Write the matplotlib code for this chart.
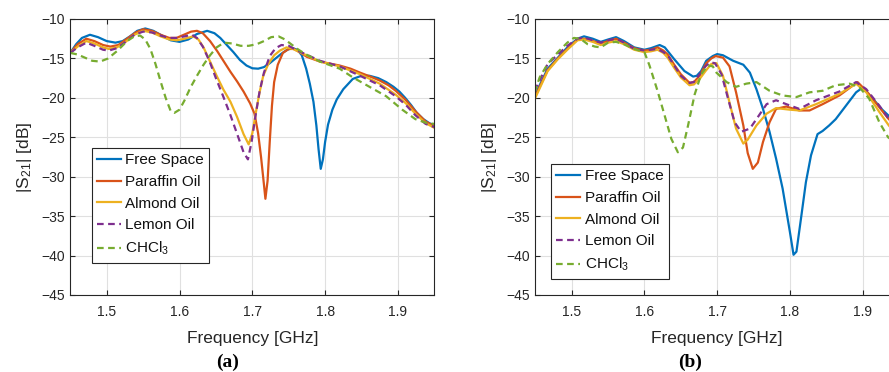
import matplotlib
matplotlib.use("Agg")
import matplotlib.pyplot as plt

plt.rcParams['font.family'] = ['Liberation Sans', 'DejaVu Sans']
plt.rcParams['mathtext.fontset'] = 'custom'
plt.rcParams['mathtext.rm'] = 'Liberation Sans'
plt.rcParams['mathtext.it'] = 'Liberation Sans:italic'

# ---------------- data: panel (a) ----------------
fa_free = [1.45, 1.458, 1.466, 1.477, 1.488, 1.5, 1.512, 1.522, 1.532, 1.542, 1.553, 1.564, 1.576, 1.588,
           1.6, 1.612, 1.624, 1.638, 1.648, 1.656, 1.665, 1.674, 1.683, 1.692, 1.7, 1.708, 1.716, 1.724,
           1.732, 1.74, 1.748, 1.755, 1.762, 1.768, 1.774, 1.779, 1.784, 1.788, 1.791, 1.794, 1.797, 1.8,
           1.804, 1.81, 1.816, 1.825, 1.838, 1.85, 1.861, 1.873, 1.884, 1.894, 1.902, 1.91, 1.918, 1.926,
           1.935, 1.943, 1.95]
va_free = [-14.3, -13.2, -12.4, -12.0, -12.3, -12.8, -13.0, -12.8, -12.2, -11.5, -11.2, -11.5, -12.1, -12.7,
           -12.9, -12.6, -11.9, -11.5, -11.8, -12.4, -13.3, -14.2, -15.2, -15.9, -16.25, -16.3, -16.1, -15.6,
           -15.0, -14.4, -13.9, -13.7, -13.9, -14.6, -16.3, -18.2, -20.5, -23.5, -26.5, -29.0, -27.8, -25.6,
           -23.4, -21.5, -20.2, -18.9, -17.6, -17.2, -17.2, -17.5, -18.0, -18.6, -19.2, -20.0, -20.9, -21.9,
           -22.7, -23.2, -23.5]

fa_paraffin = [1.45, 1.46, 1.472, 1.483, 1.495, 1.505, 1.516, 1.528, 1.54, 1.55, 1.562, 1.574, 1.586, 1.596,
               1.606, 1.616, 1.624, 1.632, 1.642, 1.652, 1.661, 1.67, 1.679, 1.688, 1.697, 1.703, 1.708, 1.712,
               1.716, 1.718, 1.721, 1.724, 1.727, 1.73, 1.735, 1.742, 1.75, 1.757, 1.765, 1.775, 1.793, 1.82,
               1.835, 1.848, 1.862, 1.875, 1.887, 1.897, 1.911, 1.924, 1.938, 1.95]
va_paraffin = [-14.3, -13.2, -12.5, -12.8, -13.3, -13.5, -13.3, -12.5, -11.7, -11.3, -11.5, -12.0, -12.4, -12.4,
               -12.0, -11.6, -11.5, -11.8, -12.8, -14.1, -15.4, -16.7, -17.9, -19.2, -20.7, -22.0, -24.5, -27.5,
               -31.0, -32.8, -30.5, -25.5, -21.0, -18.0, -15.8, -14.3, -13.8, -13.8, -14.2, -14.8, -15.4, -15.9,
               -16.3, -16.8, -17.3, -17.8, -18.4, -19.1, -20.3, -21.7, -23.0, -23.6]

fa_almond = [1.45, 1.46, 1.472, 1.483, 1.495, 1.503, 1.514, 1.526, 1.538, 1.55, 1.562, 1.574, 1.586, 1.596,
             1.607, 1.619, 1.626, 1.633, 1.642, 1.651, 1.66, 1.67, 1.679, 1.688, 1.695, 1.7, 1.705, 1.71,
             1.715, 1.722, 1.73, 1.738, 1.747, 1.756, 1.765, 1.793, 1.82, 1.848, 1.875, 1.897, 1.911, 1.924,
             1.938, 1.95]
va_almond = [-14.3, -13.5, -12.8, -13.1, -13.6, -13.8, -13.6, -12.9, -12.0, -11.5, -11.7, -12.2, -12.6, -12.7,
             -12.5, -12.2, -12.6, -13.6, -15.4, -17.2, -18.9, -20.5, -22.4, -24.6, -25.9, -24.5, -21.8, -19.3,
             -17.2, -15.7, -14.6, -14.0, -13.6, -13.8, -14.2, -15.4, -16.0, -17.0, -18.2, -19.6, -20.7, -22.0,
             -23.2, -23.8]

fa_lemon = [1.45, 1.46, 1.472, 1.483, 1.495, 1.503, 1.514, 1.526, 1.538, 1.55, 1.562, 1.574, 1.586, 1.596,
            1.607, 1.617, 1.624, 1.632, 1.641, 1.65, 1.66, 1.67, 1.68, 1.688, 1.694, 1.699, 1.704, 1.71,
            1.716, 1.724, 1.732, 1.74, 1.75, 1.762, 1.774, 1.793, 1.82, 1.848, 1.875, 1.897, 1.911, 1.924,
            1.938, 1.95]
va_lemon = [-14.3, -13.6, -13.0, -13.4, -13.9, -14.0, -13.7, -12.9, -12.0, -11.6, -11.7, -12.1, -12.4, -12.4,
            -12.2, -12.0, -12.4, -13.5, -15.3, -17.5, -19.8, -22.2, -24.8, -26.9, -27.8, -25.6, -22.5, -19.2,
            -16.8, -14.7, -13.7, -13.3, -13.4, -14.0, -14.5, -15.3, -16.0, -17.2, -18.4, -19.8, -20.9, -22.2,
            -23.3, -23.7]

fa_chcl3 = [1.45, 1.46, 1.47, 1.48, 1.491, 1.502, 1.515, 1.528, 1.538, 1.546, 1.553, 1.56, 1.567, 1.574,
            1.581, 1.588, 1.593, 1.6, 1.607, 1.615, 1.624, 1.633, 1.642, 1.651, 1.661, 1.672, 1.684, 1.695,
            1.706, 1.716, 1.726, 1.736, 1.745, 1.752, 1.762, 1.772, 1.793, 1.82, 1.838, 1.861, 1.884, 1.906,
            1.924, 1.94, 1.95]
va_chcl3 = [-14.3, -14.5, -14.9, -15.3, -15.4, -15.0, -14.0, -12.8, -12.2, -12.1, -12.6, -13.8, -15.7, -17.9,
            -20.0, -21.7, -21.9, -21.5, -20.3, -18.7, -17.2, -15.8, -14.6, -13.6, -13.0, -13.1, -13.4, -13.4,
            -13.2, -12.8, -12.3, -12.2, -12.6, -13.1, -13.8, -14.4, -15.4, -16.3, -17.4, -18.6, -19.8, -21.5,
            -22.7, -23.2, -23.3]

# ---------------- data: panel (b) ----------------
fb_free = [1.449, 1.456, 1.467, 1.481, 1.494, 1.508, 1.517, 1.529, 1.54, 1.55, 1.561, 1.572, 1.586, 1.6,
           1.609, 1.621, 1.628, 1.641, 1.655, 1.667, 1.672, 1.678, 1.685, 1.694, 1.7, 1.708, 1.722, 1.736,
           1.745, 1.754, 1.763, 1.772, 1.781, 1.79, 1.8, 1.805, 1.809, 1.816, 1.822, 1.829, 1.838, 1.845,
           1.854, 1.863, 1.877, 1.891, 1.9, 1.914, 1.927, 1.95]
vb_free = [-19.9, -18.4, -16.3, -14.9, -13.6, -12.5, -12.2, -12.5, -12.9, -12.6, -12.3, -12.8, -13.6, -13.9,
           -13.7, -13.3, -13.6, -15.1, -16.6, -17.3, -17.2, -16.6, -15.3, -14.7, -14.45, -14.6, -15.3, -15.8,
           -16.8, -18.9, -21.4, -24.3, -27.7, -31.5, -37.0, -39.9, -39.5, -34.8, -30.7, -27.3, -24.6, -24.2,
           -23.5, -22.7, -21.0, -19.3, -18.7, -20.1, -21.5, -23.5]

fb_paraffin = [1.449, 1.456, 1.467, 1.481, 1.494, 1.508, 1.517, 1.529, 1.54, 1.55, 1.561, 1.572, 1.586, 1.6,
               1.609, 1.618, 1.626, 1.632, 1.641, 1.65, 1.662, 1.668, 1.676, 1.685, 1.692, 1.698, 1.708, 1.717,
               1.726, 1.736, 1.742, 1.749, 1.756, 1.763, 1.772, 1.781, 1.795, 1.813, 1.827, 1.845, 1.868, 1.893,
               1.905, 1.923, 1.936, 1.95]
vb_paraffin = [-20.0, -18.6, -16.5, -15.0, -13.8, -12.6, -12.5, -12.8, -13.1, -12.8, -12.5, -13.0, -13.7, -14.0,
               -13.9, -13.6, -14.0, -14.5, -15.8, -17.0, -18.1, -18.0, -17.2, -15.6, -15.0, -14.7, -14.9, -16.0,
               -19.3, -23.5, -27.0, -29.0, -28.2, -25.6, -23.1, -21.4, -21.1, -21.6, -21.6, -20.8, -19.7, -18.0,
               -19.1, -21.2, -22.7, -23.8]

fb_almond = [1.449, 1.456, 1.467, 1.481, 1.494, 1.508, 1.517, 1.529, 1.54, 1.55, 1.561, 1.572, 1.586, 1.6,
             1.609, 1.618, 1.626, 1.632, 1.641, 1.65, 1.662, 1.668, 1.676, 1.684, 1.692, 1.699, 1.708, 1.717,
             1.726, 1.736, 1.742, 1.754, 1.768, 1.781, 1.8, 1.813, 1.836, 1.868, 1.891, 1.905, 1.923, 1.936, 1.95]
vb_almond = [-20.2, -18.8, -16.6, -15.1, -13.9, -12.7, -12.6, -12.9, -13.3, -13.0, -12.8, -13.2, -13.9, -14.2,
             -14.1, -13.9, -14.3, -14.9, -16.2, -17.4, -18.4, -18.3, -17.6, -16.6, -15.7, -15.6, -17.2, -20.6,
             -23.9, -25.8, -25.3, -23.5, -22.0, -21.3, -21.5, -21.6, -20.8, -19.5, -18.2, -19.3, -21.8, -23.5, -25.0]

fb_lemon = [1.449, 1.456, 1.467, 1.481, 1.494, 1.508, 1.517, 1.529, 1.54, 1.55, 1.561, 1.572, 1.586, 1.6,
            1.609, 1.618, 1.626, 1.632, 1.641, 1.65, 1.662, 1.668, 1.676, 1.684, 1.69, 1.697, 1.706, 1.715,
            1.724, 1.733, 1.745, 1.754, 1.768, 1.781, 1.795, 1.813, 1.836, 1.868, 1.891, 1.905, 1.923, 1.936, 1.95]
vb_lemon = [-19.1, -17.8, -15.7, -14.5, -13.4, -12.5, -12.35, -12.7, -13.0, -12.7, -12.5, -13.0, -13.8, -14.0,
            -13.9, -13.8, -14.2, -14.6, -15.9, -17.2, -18.1, -18.0, -17.0, -16.0, -15.5, -15.6, -17.0, -20.1,
            -23.1, -24.3, -23.9, -22.7, -20.8, -20.3, -20.8, -21.4, -20.3, -19.2, -18.0, -18.9, -21.0, -22.7, -24.0]

fb_chcl3 = [1.449, 1.456, 1.467, 1.481, 1.494, 1.503, 1.512, 1.522, 1.532, 1.54, 1.55, 1.561, 1.572, 1.586,
            1.6, 1.607, 1.618, 1.628, 1.637, 1.646, 1.653, 1.66, 1.669, 1.678, 1.687, 1.694, 1.699, 1.713,
            1.726, 1.74, 1.754, 1.772, 1.79, 1.809, 1.827, 1.845, 1.863, 1.882, 1.895, 1.909, 1.923, 1.935, 1.95]
vb_chcl3 = [-19.3, -17.4, -15.7, -14.2, -13.0, -12.4, -12.5, -13.2, -13.5, -13.6, -13.0, -12.9, -13.2, -13.8,
            -14.2, -15.9, -19.1, -22.3, -25.2, -26.9, -26.3, -23.5, -19.6, -17.0, -15.9, -16.0, -16.8, -18.0,
            -18.6, -18.2, -18.0, -19.1, -19.7, -19.9, -19.3, -19.1, -18.4, -18.2, -18.6, -20.1, -23.1, -25.0, -26.0]

labels = ['Free Space', 'Paraffin Oil', 'Almond Oil', 'Lemon Oil', 'CHCl$_3$']
colors = ['#0072BD', '#D95319', '#EDB120', '#7E2F8E', '#77AC30']
styles = ['-', '-', '-', '--', '--']

xticks = [1.5, 1.6, 1.7, 1.8, 1.9]
yticks = [-45, -40, -35, -30, -25, -20, -15, -10]

W, H = 889, 372
fig = plt.figure(figsize=(W / 100, H / 100), dpi=100)

panels = [
    dict(rect=[70.3 / W, 77 / H, 364 / W, 276 / H],
         series=[(fa_free, va_free), (fa_paraffin, va_paraffin), (fa_almond, va_almond),
                 (fa_lemon, va_lemon), (fa_chcl3, va_chcl3)],
         leg=(91.7 / W, 1 - 148 / H), tag='(a)', tagpos=(228 / W, 1 - 362 / H)),
    dict(rect=[535.3 / W, 77 / H, 363.7 / W, 276 / H],
         series=[(fb_free, vb_free), (fb_paraffin, vb_paraffin), (fb_almond, vb_almond),
                 (fb_lemon, vb_lemon), (fb_chcl3, vb_chcl3)],
         leg=(551 / W, 1 - 164 / H), tag='(b)', tagpos=(690 / W, 1 - 362 / H)),
]

dark = '#262626'
for p in panels:
    ax = fig.add_axes(p['rect'])
    for (f, v), lab, c, ls in zip(p['series'], labels, colors, styles):
        kw = dict(dashes=(3.0, 2.0)) if ls == '--' else {}
        ax.plot(f, v, ls, color=c, lw=1.6, label=lab, **kw)
    ax.set_xlim(1.45, 1.95)
    ax.set_ylim(-45, -10)
    ax.set_xticks(xticks)
    ax.set_yticks(yticks)
    ax.set_xticklabels([f'{t:.1f}' for t in xticks])
    ax.grid(True, color='#e0e0e0', lw=0.8)
    ax.set_axisbelow(True)
    for s in ax.spines.values():
        s.set_color(dark)
        s.set_linewidth(0.8)
    ax.tick_params(direction='in', length=3.5, width=0.8, color=dark, labelcolor=dark,
                   labelsize=10, top=True, right=True)
    ax.tick_params(axis='x', pad=7)
    ax.tick_params(axis='y', pad=4)
    ax.set_xlabel('Frequency [GHz]', fontsize=12.5, color=dark, labelpad=9)
    ax.set_ylabel(r'|S$_{\mathit{21}}$| [dB]', fontsize=12.5, color=dark, labelpad=5)
    leg = ax.legend(loc='upper left', bbox_to_anchor=p['leg'], bbox_transform=fig.transFigure,
                    fontsize=11, frameon=True, fancybox=False, framealpha=1, edgecolor=dark,
                    handlelength=1.55, handletextpad=0.3, labelspacing=0.5, borderpad=0.35,
                    borderaxespad=0)
    leg.get_frame().set_linewidth(0.8)
    for t in leg.get_texts():
        t.set_color('#111111')
    fig.text(p['tagpos'][0], p['tagpos'][1], p['tag'], ha='center', va='center',
             fontfamily='Liberation Serif', fontweight='bold', fontsize=14, color='#000000')

fig.savefig('out.png', dpi=100)
